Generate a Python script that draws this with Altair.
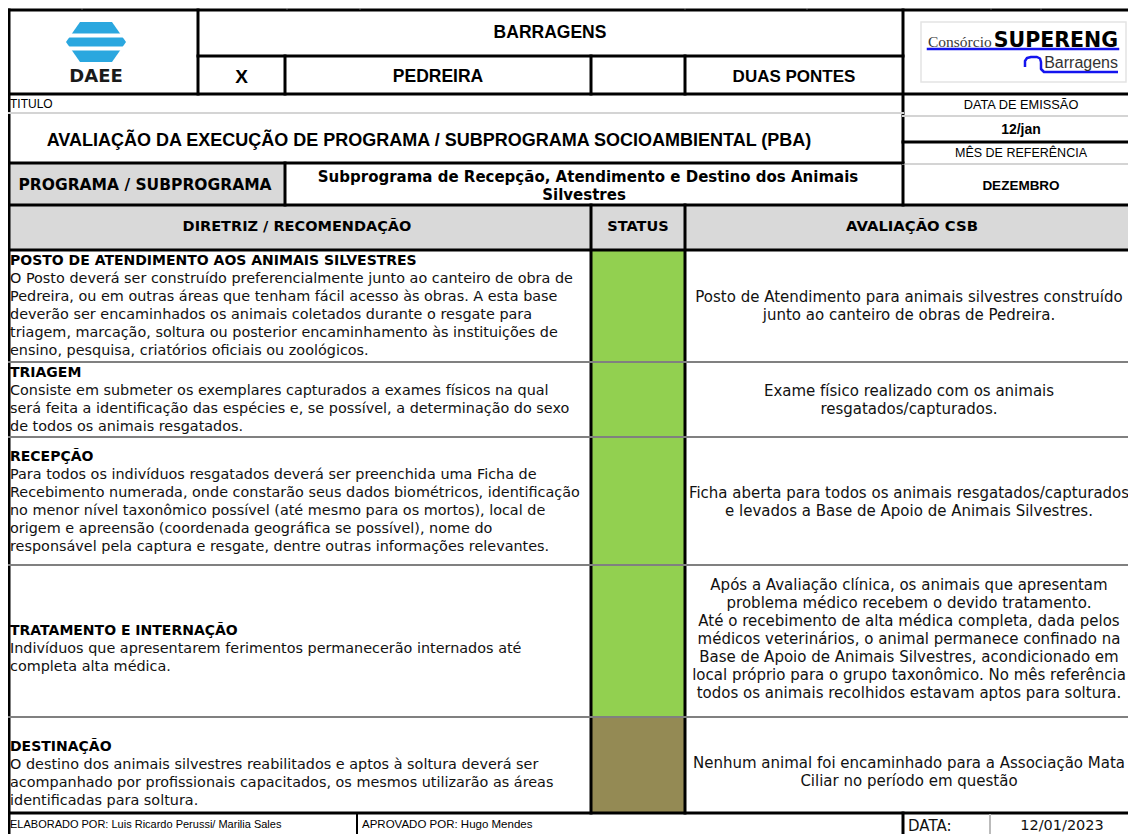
import altair as alt
import pandas as pd

# ---------------- content ----------------
header_top = "BARRAGENS"
header_options = ["X", "PEDREIRA", "", "DUAS PONTES"]
title_label = "TITULO"
title_text = "AVALIAÇÃO DA EXECUÇÃO DE PROGRAMA / SUBPROGRAMA SOCIOAMBIENTAL (PBA)"
issue_label = "DATA DE EMISSÃO"
issue_value = "12/jan"
month_label = "MÊS DE REFERÊNCIA"
month_value = "DEZEMBRO"
program_label = "PROGRAMA / SUBPROGRAMA"
program_lines = ["Subprograma de Recepção, Atendimento e Destino dos Animais", "Silvestres"]
column_headers = ["DIRETRIZ  /  RECOMENDAÇÃO", "STATUS", "AVALIAÇÃO CSB"]

row_titles = [
    "POSTO DE ATENDIMENTO AOS ANIMAIS SILVESTRES",
    "TRIAGEM",
    "RECEPÇÃO",
    "TRATAMENTO E INTERNAÇÃO",
    "DESTINAÇÃO",
]
row_descriptions = [
    ["O Posto deverá ser construído preferencialmente junto ao canteiro de obra de",
     "Pedreira, ou em outras áreas que tenham fácil acesso às obras. A esta base",
     "deverão ser encaminhados os animais coletados durante o resgate para",
     "triagem, marcação, soltura ou posterior encaminhamento às instituições de",
     "ensino, pesquisa, criatórios oficiais ou zoológicos."],
    ["Consiste em submeter os exemplares capturados a exames físicos na qual",
     "será feita a identificação das espécies e, se possível, a determinação do sexo",
     "de todos os animais resgatados."],
    ["Para todos os indivíduos resgatados deverá ser preenchida uma Ficha de",
     "Recebimento numerada, onde constarão seus dados biométricos, identificação",
     "no menor nível taxonômico possível (até mesmo para os mortos), local de",
     "origem e apreensão (coordenada geográfica se possível), nome do",
     "responsável pela captura e resgate, dentre outras informações relevantes."],
    ["Indivíduos que apresentarem ferimentos permanecerão internados até",
     "completa alta médica."],
    ["O destino dos animais silvestres reabilitados e aptos à soltura deverá ser",
     "acompanhado por profissionais capacitados, os mesmos utilizarão as áreas",
     "identificadas para soltura."],
]
row_evaluations = [
    ["Posto de Atendimento para animais silvestres construído",
     "junto ao canteiro de obras de Pedreira."],
    ["Exame físico realizado com os animais",
     "resgatados/capturados."],
    ["Ficha aberta para todos os animais resgatados/capturados",
     "e levados a Base de Apoio de Animais Silvestres."],
    ["Após a Avaliação clínica, os animais que apresentam",
     "problema médico recebem o devido tratamento.",
     "Até o recebimento de alta médica completa, dada pelos",
     "médicos veterinários, o animal permanece confinado na",
     "Base de Apoio de Animais Silvestres, acondicionado em",
     "local próprio para o grupo taxonômico. No mês referência",
     "todos os animais recolhidos estavam aptos para soltura."],
    ["Nenhum animal foi encaminhado para a Associação Mata",
     "Ciliar no período em questão"],
]
row_status = ["Atendido", "Atendido", "Atendido", "Atendido", "Sem ocorrência"]
footer_prepared = "ELABORADO POR: Luis Ricardo Perussi/ Marilia Sales"
footer_approved = "APROVADO POR: Hugo Mendes"
footer_date_label = "DATA:"
footer_date = "12/01/2023"
logo_left = "DAEE"
logo_right = ["Consórcio", "SUPERENG", "Barragens"]

# ---------------- styles ----------------
status_colors = {"Atendido": "#92D050", "Sem ocorrência": "#948A54"}
GREY_FILL = "#D9D9D9"
BLACK = "#000000"
ROW_SEP = "#808080"
LIGHT = "#D4D4D4"
TXT = "#111111"
ARIAL = "Liberation Sans"
BODY = "DejaVu Sans"
LOGO_BLUE = "#2AA7DF"
SUP_BLUE = "#1414EE"

# ---------------- layout (page pixel grid) ----------------
XL, XR = 9, 1142
X_LOGO, X_X, X_PED, X_BLANK, X_RCOL = 198, 285, 591, 685, 903
Y_TOP, Y_R1, Y_R2, Y_TIT, Y_PROG, Y_HEAD, Y_BODY = 10, 56, 94, 113, 163, 205, 250
Y_EMIS, Y_DATE = 116, 142
row_edges = [250, 362, 437, 565, 717, 813]
row_title_y = [261, 373, 457, 631, 747]
row_eval_y = [297, 391, 493, 585, 763]
LINE_H = 18
Y_END = 842
X_DESC = 10
X_EVAL = 909
X_RC = 1021
top_ticks = [82, 287, 360, 685, 807, 991, 1041]

# ---------------- fills ----------------
rects = [
    dict(x=XL, x2=X_X, y=Y_PROG, y2=Y_HEAD, c=GREY_FILL),
    dict(x=XL, x2=XR, y=Y_HEAD, y2=Y_BODY, c=GREY_FILL),
]
for i, st in enumerate(row_status):
    rects.append(dict(x=X_PED, x2=X_BLANK, y=row_edges[i], y2=row_edges[i + 1], c=status_colors[st]))


# ---------------- grid lines ----------------
def seg(x, y, x2, y2, c=BLACK, w=3):
    return dict(x=x, y=y, x2=x2, y2=y2, c=c, w=w)


lines = [
    seg(XL, Y_TOP, XR, Y_TOP),
    seg(XL, Y_TOP, XL, Y_END),
    seg(X_LOGO, Y_R1, X_RCOL, Y_R1),
    seg(X_LOGO, Y_TOP, X_LOGO, Y_R2),
    seg(X_X, Y_R1, X_X, Y_R2),
    seg(X_PED, Y_R1, X_PED, Y_R2),
    seg(X_BLANK, Y_R1, X_BLANK, Y_R2),
    seg(X_RCOL, Y_TOP, X_RCOL, Y_HEAD),
    seg(XL, Y_R2, XR, Y_R2),
    seg(XL, Y_TIT, X_RCOL, Y_TIT, LIGHT, 2),
    seg(X_RCOL, Y_EMIS, XR, Y_EMIS, LIGHT, 2),
    seg(X_RCOL, Y_DATE, XR, Y_DATE),
    seg(X_RCOL, Y_PROG + 1, XR, Y_PROG + 1, LIGHT, 2),
    seg(XL, Y_PROG, X_RCOL, Y_PROG),
    seg(X_X, Y_PROG, X_X, Y_HEAD),
    seg(XL, Y_HEAD, XR, Y_HEAD),
    seg(XL, Y_BODY, XR, Y_BODY),
    seg(X_PED, Y_HEAD, X_PED, row_edges[-1]),
    seg(X_BLANK, Y_HEAD, X_BLANK, row_edges[-1]),
]
for yy in row_edges[1:-1]:
    lines.append(seg(XL, yy, XR, yy, ROW_SEP, 2))
lines += [
    seg(XL, row_edges[-1], XR, row_edges[-1]),
    seg(357, row_edges[-1], 357, Y_END, BLACK, 2),
    seg(X_RCOL, row_edges[-1], X_RCOL, Y_END, BLACK, 3),
    seg(990, row_edges[-1] + 2, 990, Y_END, "#BBBBBB", 2),
]
for tx in top_ticks:
    lines.append(seg(tx, 3, tx, 9, "#9A9A9A", 1))

# ---------------- texts ----------------
arial_bold_c = [
    dict(x=550, y=33, t=header_top, s=17.5),
    dict(x=241.5, y=77, t=header_options[0], s=19),
    dict(x=438, y=77, t=header_options[1], s=17.5),
    dict(x=638, y=77, t=header_options[2], s=17),
    dict(x=794, y=77, t=header_options[3], s=17),
    dict(x=429, y=141, t=title_text, s=18),
    dict(x=X_RC, y=130, t=issue_value, s=14),
    dict(x=X_RC, y=186, t=month_value, s=13.5),
]
arial_c = [
    dict(x=X_RC, y=105, t=issue_label, s=12.8),
    dict(x=X_RC, y=153, t=month_label, s=12.5),
]
arial_l = [
    dict(x=10, y=104, t=title_label, s=12),
    dict(x=10, y=825, t=footer_prepared, s=11),
    dict(x=362, y=825, t=footer_approved, s=11.5),
]
body_bold_c = [
    dict(x=145, y=185, t=program_label, s=15.5),
    dict(x=588, y=177, t=program_lines[0], s=15),
    dict(x=584, y=195, t=program_lines[1], s=15),
    dict(x=297, y=227, t=column_headers[0], s=14.5),
    dict(x=638, y=227, t=column_headers[1], s=14.5),
    dict(x=912, y=227, t=column_headers[2], s=14.8),
]
body_bold_l = [dict(x=X_DESC, y=row_title_y[i], t=row_titles[i], s=14) for i in range(len(row_titles))]
body_l = [dict(x=908, y=826, t=footer_date_label, s=15)]
for i, desc in enumerate(row_descriptions):
    for k, ln in enumerate(desc):
        body_l.append(dict(x=X_DESC, y=row_title_y[i] + LINE_H * (k + 1), t=ln, s=14.4))
body_c = [dict(x=1062, y=826, t=footer_date, s=14.5)]
for i, ev in enumerate(row_evaluations):
    for k, ln in enumerate(ev):
        body_c.append(dict(x=X_EVAL, y=row_eval_y[i] + LINE_H * k, t=ln, s=15))

# ---------------- logos ----------------
hexagon = pd.DataFrame(dict(x=[66, 80, 112, 126], y=[42, 22, 22, 42], y2=[42, 62, 62, 42]))
logo_cuts = [
    dict(x=60, x2=132, y=33.5, y2=37.5, c="#FFFFFF"),
    dict(x=60, x2=132, y=46.5, y2=50.5, c="#FFFFFF"),
]
supereng_box = pd.DataFrame([dict(x=921, x2=1126, y=22, y2=82)])
bump = pd.DataFrame(dict(
    x=[1025, 1025, 1027, 1031, 1037, 1040, 1041, 1041, 1044, 1118],
    y=[67, 61, 58, 57, 57, 58.5, 62, 69, 72, 72],
    o=list(range(10)),
))
underline = pd.DataFrame([dict(x=928, x2=1118, y=49, y2=49, c=SUP_BLUE, w=2.5)])

# ---------------- scales / helpers ----------------
XS = alt.Scale(domain=[8, 1128], range=[0, 1120], nice=False, zero=False)
YS = alt.Scale(domain=[8, 834], range=[0, 826], nice=False, zero=False)


def xq(f="x"):
    return alt.X(f"{f}:Q", scale=XS, axis=None)


def yq(f="y"):
    return alt.Y(f"{f}:Q", scale=YS, axis=None)


def rect_layer(rows):
    return alt.Chart(pd.DataFrame(rows)).mark_rect().encode(
        x=xq(), x2="x2:Q", y=yq(), y2="y2:Q", color=alt.Color("c:N", scale=None)
    )


def rule_layer(df):
    return alt.Chart(df).mark_rule(strokeCap="square").encode(
        x=xq(), x2="x2:Q", y=yq(), y2="y2:Q",
        color=alt.Color("c:N", scale=None),
        strokeWidth=alt.StrokeWidth("w:Q", scale=None),
    )


def text_layer(rows, font, weight, align, color=TXT, baseline="middle"):
    return alt.Chart(pd.DataFrame(rows)).mark_text(
        font=font, fontWeight=weight, align=align, baseline=baseline, color=color
    ).encode(
        x=xq(), y=yq(), text="t:N", size=alt.Size("s:Q", scale=None)
    )


layers = [
    rect_layer(rects),
    alt.Chart(supereng_box).mark_rect(fill="#FFFFFF", stroke="#E4E4E4", strokeWidth=1.5).encode(
        x=xq(), x2="x2:Q", y=yq(), y2="y2:Q"),
    rule_layer(pd.DataFrame(lines)),
    alt.Chart(hexagon).mark_area(color=LOGO_BLUE).encode(x=xq(), y=yq(), y2="y2:Q"),
    rect_layer(logo_cuts),
    text_layer([dict(x=96, y=77, t=logo_left, s=18)], BODY, "bold", "center", "#1A1A1A"),
    rule_layer(underline),
    alt.Chart(bump).mark_line(color=SUP_BLUE, strokeWidth=2.5, strokeJoin="round").encode(
        x=xq(), y=yq(), order="o:O"),
    text_layer([dict(x=928, y=47, t=logo_right[0], s=15.5)], "Liberation Serif", "normal", "left", "#3A3A3A", "alphabetic"),
    text_layer([dict(x=1118, y=47, t=logo_right[1], s=20.5)], BODY, "bold", "right", BLACK, "alphabetic"),
    text_layer([dict(x=1118, y=63, t=logo_right[2], s=16)], ARIAL, "normal", "right", "#333333"),
    text_layer(arial_bold_c, ARIAL, "bold", "center", BLACK),
    text_layer(arial_c, ARIAL, "normal", "center", BLACK),
    text_layer(arial_l, ARIAL, "normal", "left", BLACK),
    text_layer(body_bold_c, BODY, "bold", "center", BLACK),
    text_layer(body_bold_l, BODY, "bold", "left", BLACK),
    text_layer(body_l, BODY, "normal", "left"),
    text_layer(body_c, BODY, "normal", "center"),
]

chart = alt.layer(*layers).properties(
    width=1120, height=826,
    padding=0,
    autosize=alt.AutoSizeParams(type="none"),
    background="#FFFFFF",
).configure_view(stroke=None)

chart.save("out.html", embed_options={"renderer": "svg", "actions": False})
